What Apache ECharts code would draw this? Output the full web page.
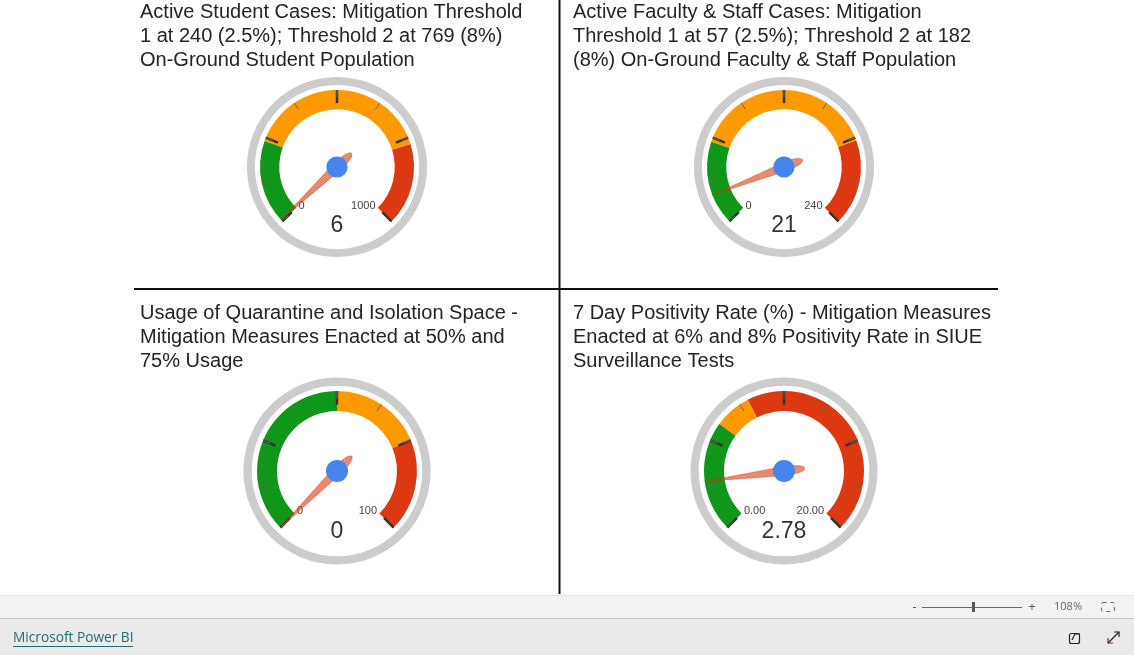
<!DOCTYPE html>
<html>
<head>
<meta charset="utf-8">
<title>Mitigation gauges</title>
<script src="https://cdn.jsdelivr.net/npm/echarts@6/dist/echarts.min.js"></script>
<style>
  html, body { margin: 0; padding: 0; background: #fff; }
  #chart { width: 1134px; height: 655px; }
</style>
</head>
<body>
<div id="chart"></div>
<script>
// data
var titles = [
  'Active Student Cases: Mitigation Threshold\n1 at 240 (2.5%); Threshold 2 at 769 (8%)\nOn-Ground Student Population',
  'Active Faculty & Staff Cases: Mitigation\nThreshold 1 at 57 (2.5%); Threshold 2 at 182\n(8%) On-Ground Faculty & Staff Population',
  'Usage of Quarantine and Isolation Space -\nMitigation Measures Enacted at 50% and\n75% Usage',
  '7 Day Positivity Rate (%) - Mitigation Measures\nEnacted at 6% and 8% Positivity Rate in SIUE\nSurveillance Tests'
]
var mins = [0, 0, 0, 0]
var maxs = [1000, 240, 100, 20]
var values = [6, 21, 0, 2.78]
var threshold1 = [240, 57, 50, 6]
var threshold2 = [769, 182, 75, 8]
var decimals = [0, 0, 0, 2]

// layout
var centers = [[337, 167], [784, 167], [337, 471], [784, 471]]
var radii = [77, 77, 80, 80]
var titlePos = [[140, 0], [573, 0], [140, 301], [573, 301]]

var FONT = '"Liberation Sans", Arial, sans-serif'
var UI_FONT = '"Open Sans", "Noto Sans", sans-serif'
var GREEN = '#109618', ORANGE = '#ff9900', RED = '#dc3912'
var NEEDLE = 'path://M5 0 L10 80 Q10 100 5 100 Q0 100 0 80 Z'

function gaugeSeries(i) {
  var R = radii[i], min = mins[i], max = maxs[i], dec = decimals[i]
  var span = max - min
  var band = R * 0.25
  var ring = {
    type: 'gauge',
    center: centers[i],
    radius: R * 1.17,
    startAngle: 90,
    endAngle: -270,
    min: 0,
    max: 1,
    silent: true,
    axisLine: { lineStyle: { width: R * 0.104, color: [[1, '#cccccc']] } },
    splitLine: { show: false },
    axisTick: { show: false },
    axisLabel: { show: false },
    pointer: { show: false },
    anchor: { show: false },
    title: { show: false },
    detail: { show: false },
    data: [{ value: 0 }]
  }
  var dial = {
    type: 'gauge',
    center: centers[i],
    radius: R,
    startAngle: 225,
    endAngle: -45,
    min: min,
    max: max,
    splitNumber: 4,
    axisLine: {
      lineStyle: {
        width: band,
        color: [
          [(threshold1[i] - min) / span, GREEN],
          [(threshold2[i] - min) / span, ORANGE],
          [1, RED]
        ]
      }
    },
    // negative distance pulls the ticks out to the band's outer edge
    splitLine: { distance: -band, length: R * 0.17, lineStyle: { color: '#333', width: 2.5 } },
    axisTick: { distance: -band, length: R * 0.1, splitNumber: 2, lineStyle: { color: '#666', width: 1 } },
    axisLabel: {
      distance: R * 0.096 + band + 2,
      padding: [0, 0, 3, 0],
      color: '#444',
      fontSize: 11,
      fontFamily: FONT,
      formatter: function (v) {
        return (v === min || v === max) ? v.toFixed(dec) : ''
      }
    },
    pointer: {
      icon: NEEDLE,
      length: R * 1.27,
      width: 9,
      offsetCenter: [0, R * 0.26],
      keepAspect: false,
      itemStyle: { color: 'rgba(220,57,18,0.6)', borderColor: 'rgba(198,51,16,0.35)', borderWidth: 1 }
    },
    anchor: { show: true, showAbove: true, size: R * 0.275, itemStyle: { color: '#4684ee' } },
    title: { show: false },
    detail: {
      offsetCenter: [0, R * 0.76],
      fontSize: 23,
      fontWeight: 'normal',
      color: '#333',
      fontFamily: FONT,
      formatter: function (v) { return v.toFixed(dec) }
    },
    data: [{ value: values[i], name: '' }]
  }
  return [ring, dial]
}

var series = []
for (var i = 0; i < 4; i++) series = series.concat(gaugeSeries(i))

var graphics = [
  // quadrant separators
  { type: 'line', shape: { x1: 559.5, y1: 0, x2: 559.5, y2: 594 }, style: { stroke: '#111', lineWidth: 2 } },
  { type: 'line', shape: { x1: 134, y1: 289, x2: 998, y2: 289 }, style: { stroke: '#111', lineWidth: 2 } },
  // footer bars
  { type: 'rect', shape: { x: 0, y: 595, width: 1134, height: 23 }, style: { fill: '#f3f3f3' } },
  { type: 'line', shape: { x1: 0, y1: 595.5, x2: 1134, y2: 595.5 }, style: { stroke: '#e3e3e3', lineWidth: 1 } },
  { type: 'rect', shape: { x: 0, y: 618, width: 1134, height: 37 }, style: { fill: '#eaeaea' } },
  { type: 'line', shape: { x1: 0, y1: 618.5, x2: 1134, y2: 618.5 }, style: { stroke: '#c8c8c8', lineWidth: 1 } },
  // zoom slider
  { type: 'line', shape: { x1: 913, y1: 607.5, x2: 916, y2: 607.5 }, style: { stroke: '#555', lineWidth: 1 } },
  { type: 'line', shape: { x1: 922, y1: 607.5, x2: 1022, y2: 607.5 }, style: { stroke: '#666', lineWidth: 1 } },
  { type: 'rect', shape: { x: 972, y: 602, width: 3, height: 10 }, style: { fill: '#555' } },
  { type: 'text', x: 1032, y: 607, style: { text: '+', fill: '#555', font: '13px ' + UI_FONT, align: 'center', verticalAlign: 'middle' } },
  { type: 'text', x: 1068, y: 607, style: { text: '108%', fill: '#666', font: '11px ' + UI_FONT, align: 'center', verticalAlign: 'middle' } },
  { type: 'rect', shape: { x: 1101.5, y: 602.5, width: 13, height: 9, r: 1 }, style: { fill: 'none', stroke: '#666', lineWidth: 1, lineDash: [4, 4] } },
  // Power BI link
  { type: 'text', x: 13, y: 638, style: { text: 'Microsoft Power BI', fill: '#1f6a78', font: '13.7px ' + UI_FONT, verticalAlign: 'middle' } },
  { type: 'line', shape: { x1: 13, y1: 646.5, x2: 133, y2: 646.5 }, style: { stroke: '#1f6a78', lineWidth: 1 } },
  // share / expand icons
  { type: 'rect', shape: { x: 1069.5, y: 633.5, width: 10, height: 10, r: 2 }, style: { fill: 'none', stroke: '#222', lineWidth: 1.2 } },
  { type: 'polyline', shape: { points: [[1072, 640], [1075, 634], [1080, 634]] }, style: { fill: 'none', stroke: '#222', lineWidth: 1.2 } },
  { type: 'line', shape: { x1: 1108, y1: 643, x2: 1119, y2: 632 }, style: { stroke: '#222', lineWidth: 1.2 } },
  { type: 'polyline', shape: { points: [[1114, 632], [1119, 632], [1119, 637]] }, style: { fill: 'none', stroke: '#222', lineWidth: 1.2 } },
  { type: 'polyline', shape: { points: [[1108, 638], [1108, 643], [1113, 643]] }, style: { fill: 'none', stroke: '#7a1f5a', lineWidth: 1.2 } }
]

var chart = echarts.init(document.getElementById('chart'))
chart.setOption({
  backgroundColor: '#ffffff',
  animation: false,
  title: titles.map(function (t, k) {
    return {
      text: t,
      left: titlePos[k][0],
      top: titlePos[k][1],
      padding: 0,
      textStyle: { fontSize: 20, fontWeight: 'normal', color: '#252423', fontFamily: FONT, lineHeight: 24 }
    }
  }),
  series: series,
  graphic: graphics
})
</script>
</body>
</html>
